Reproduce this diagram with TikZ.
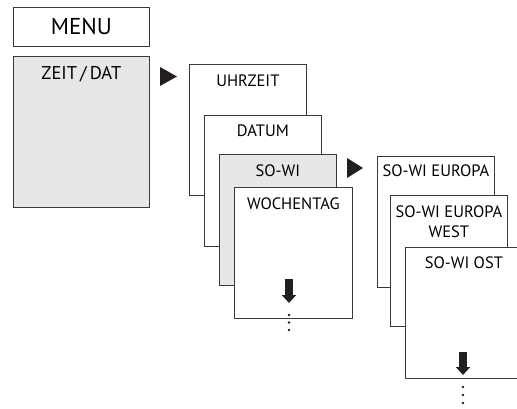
\documentclass[tikz,border=0pt]{standalone}
\usepackage{fontspec}
\setmainfont{PT Sans}
\usetikzlibrary{positioning,arrows.meta}

\definecolor{cardgrey}{HTML}{E6E7E8}
\definecolor{cardline}{HTML}{3A3A3A}
\definecolor{markink}{HTML}{231F20}

\tikzset{
  card/.style={draw=cardline, line width=0.8pt, fill=white, anchor=north west,
    minimum width=117pt, minimum height=131pt, inner sep=0pt},
  shaded/.style={fill=cardgrey},
  caption/.style={anchor=base, inner sep=0pt, align=center,
    font=\fontsize{16.5}{20}\selectfont},
  downarrow/.style={draw=markink, line width=7.5pt,
    -{Triangle[width=14pt,length=8pt]}},
  pointer/.style={fill=markink},
}

\begin{document}
\begin{tikzpicture}[x=1pt,y=-1pt]
\useasboundingbox (0,0) rectangle (517,409);

% main menu
\node[card, minimum width=136pt, minimum height=39pt,
  font=\fontsize{23}{26}\selectfont] (menu) at (13,7) {MENU};
\node[card, shaded, minimum width=136pt, minimum height=151pt] (zeitdat) at (13,56) {};
\node[below=24pt of zeitdat.north, caption, font=\fontsize{18.5}{22}\selectfont] (zeitdatText) {ZEIT\,/\,DAT};

\fill[pointer] (160,67) -- (177,76.5) -- (160,86) -- cycle;

% first stack
\node[card] (uhrzeit) at (189,64) {};
\node[below=23pt of uhrzeit.north, caption] (uhrzeitText) {UHRZEIT};
\node[card] (datum) at (204,115) {};
\node[below=22pt of datum.north, caption] (datumText) {DATUM};
\node[card, shaded] (sowi) at (219,154) {};
\node[below=23pt of sowi.north, caption] (sowiText) {SO-WI};
\node[card, minimum width=118pt] (wochentag) at (234,187) {};
\node[below=23pt of wochentag.north, caption] (wochentagText) {WOCHENTAG};

\draw[downarrow] (289,279) -- (289,303);
\foreach \y in {315,322.5,330}
  \fill[markink] (289,\y) circle (1.3pt);

\fill[pointer] (347,158) -- (363,168) -- (347,178) -- cycle;

% second stack
\node[card] (europa) at (377,156) {};
\node[below=21pt of europa.north, caption] (europaText) {SO-WI EUROPA};
\node[card] (west) at (390,195) {};
\node[below=42pt of west.north, caption] (westText) {SO-WI EUROPA\\WEST};
\node[card] (ost) at (405,247) {};
\node[below=21pt of ost.north, caption] (ostText) {SO-WI OST};

\draw[downarrow] (463,352) -- (463,375);
\foreach \y in {387,395,403}
  \fill[markink] (463,\y) circle (1.3pt);
\end{tikzpicture}
\end{document}
